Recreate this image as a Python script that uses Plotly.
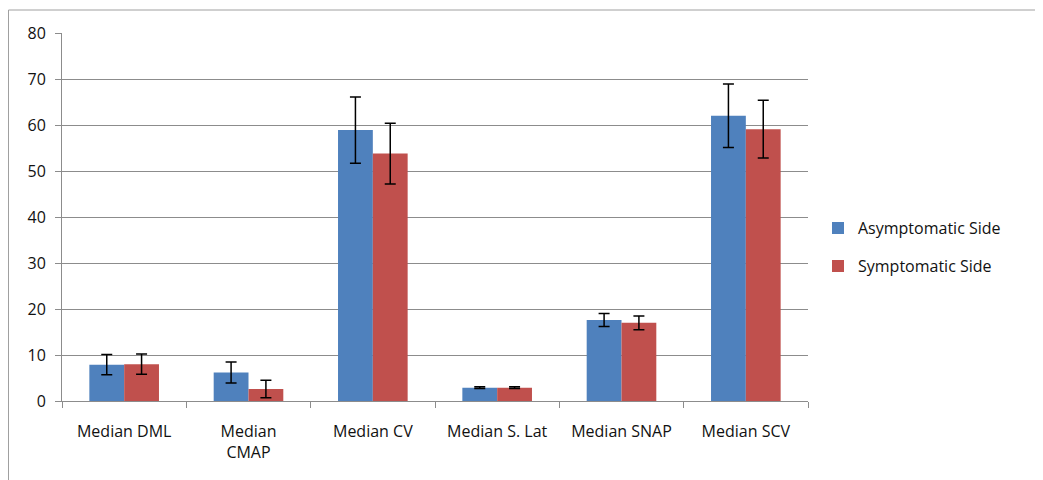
import plotly.graph_objects as go

categories = ["Median DML", "Median<br>CMAP", "Median CV", "Median S. Lat", "Median SNAP", "Median SCV"]
asym_vals = [7.9, 6.2, 58.9, 2.9, 17.6, 62.0]
asym_err = [2.2, 2.3, 7.2, 0.2, 1.4, 6.9]
sym_vals = [8.0, 2.6, 53.8, 2.9, 17.0, 59.1]
sym_err = [2.2, 1.9, 6.6, 0.2, 1.5, 6.3]
y_ticks = [0, 10, 20, 30, 40, 50, 60, 70, 80]

font_family = "'Open Sans', 'Noto Sans', sans-serif"
grid_col = "#8c8c8c"

fig = go.Figure()
fig.add_trace(go.Bar(
    x=categories, y=asym_vals, name="Asymptomatic Side", legendgroup="a",
    marker=dict(color="#4F81BD", line=dict(width=0)),
    error_y=dict(type="data", array=asym_err, color="black", thickness=1.5, width=5.5),
))
fig.add_trace(go.Bar(
    x=categories, y=sym_vals, name="Symptomatic Side", legendgroup="b",
    marker=dict(color="#C0504D", line=dict(width=0)),
    error_y=dict(type="data", array=sym_err, color="black", thickness=1.5, width=5.5),
))

fig.update_layout(
    width=1035, height=472,
    margin=dict(l=54, r=235, t=25, b=79),
    paper_bgcolor="white", plot_bgcolor="white",
    barmode="group", bargap=0.44, bargroupgap=0,
    font=dict(family=font_family, size=16, color="#111111"),
    showlegend=True,
    legend=dict(x=1.0134, y=0.418, yanchor="middle", xanchor="left",
                font=dict(size=16), itemsizing="constant",
                tracegroupgap=14, bgcolor="rgba(0,0,0,0)"),
    xaxis=dict(
        showline=True, linecolor=grid_col, linewidth=1,
        ticks="outside", tickson="boundaries", ticklen=6, tickcolor=grid_col,
        tickfont=dict(size=16), showgrid=False, ticklabelstandoff=16,
    ),
    yaxis=dict(
        range=[0, 80], tickvals=y_ticks,
        showline=True, linecolor=grid_col, linewidth=1,
        ticks="outside", ticklen=6, tickcolor=grid_col,
        showgrid=True, gridcolor=grid_col, gridwidth=1,
        zeroline=False, tickfont=dict(size=16), ticklabelstandoff=6,
    ),
    shapes=[dict(type="rect", xref="paper", yref="paper",
                 x0=-0.0717, x1=1.4, y0=-0.3, y1=1.0625,
                 line=dict(color="#a0a0a0", width=1), fillcolor="rgba(0,0,0,0)",
                 layer="below")],
)

fig.write_html("out.html")
